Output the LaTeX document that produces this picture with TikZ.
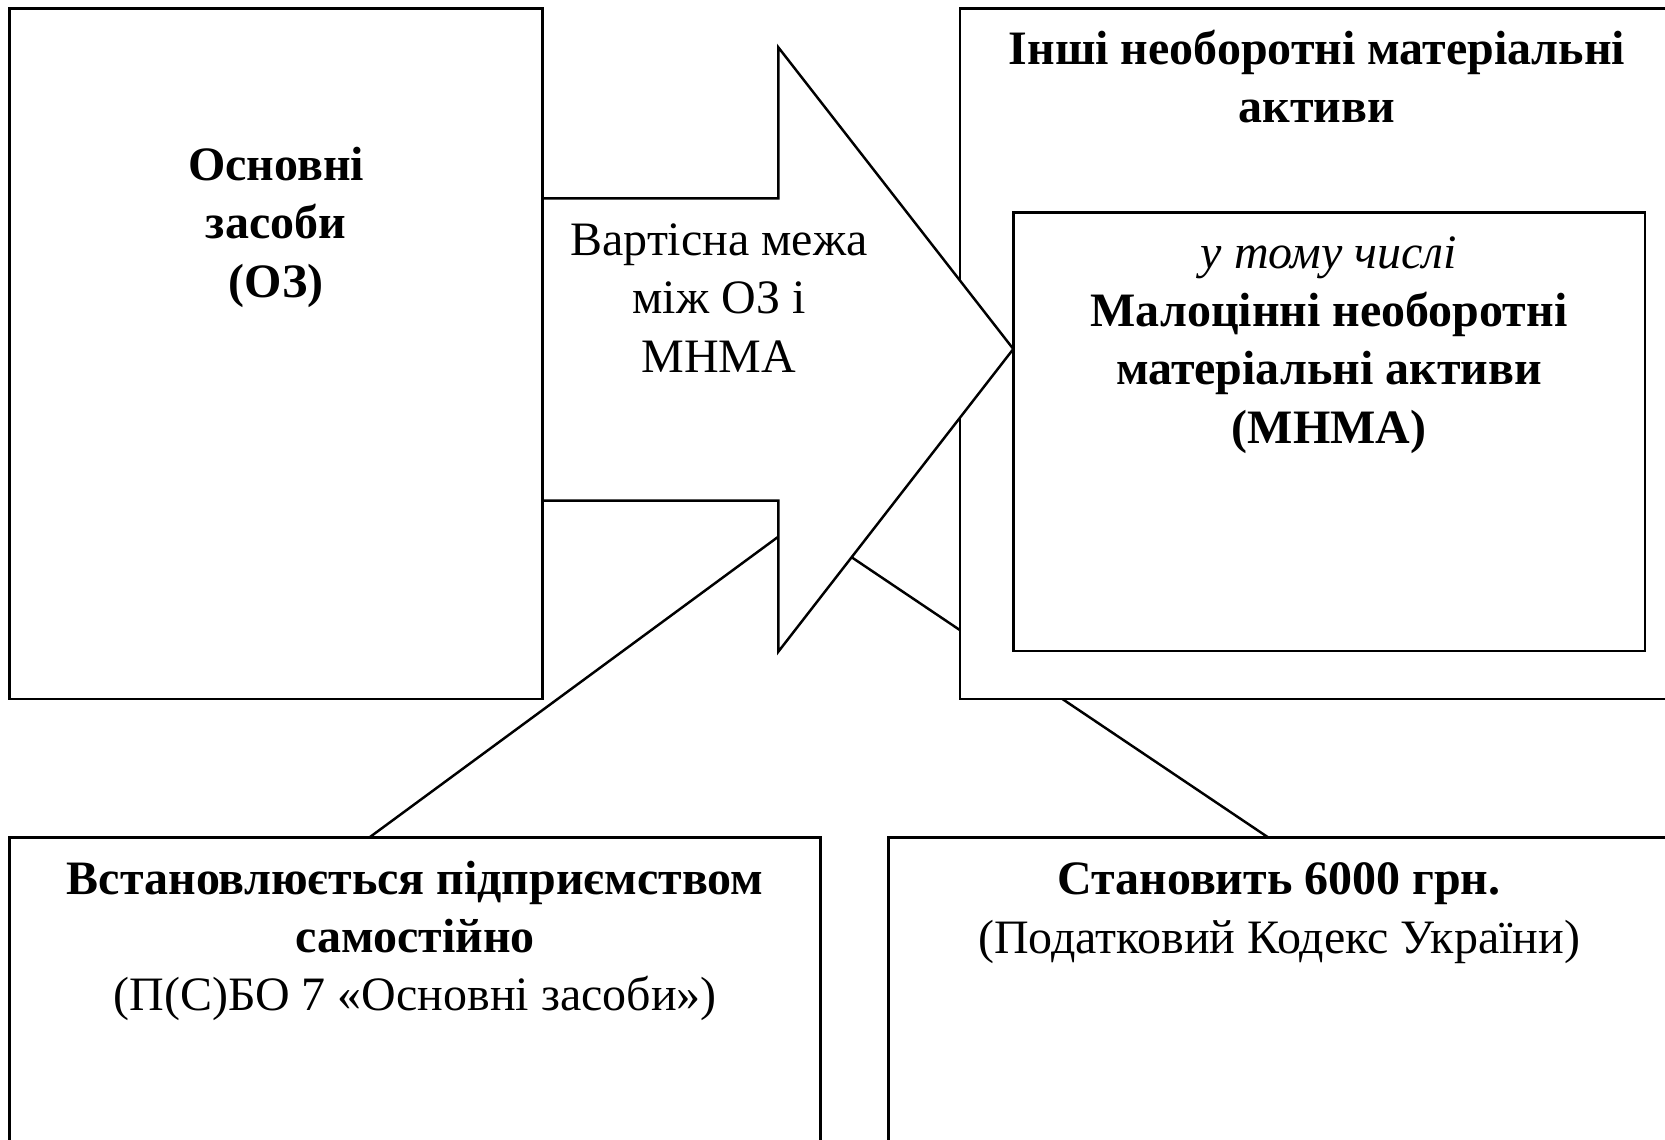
\documentclass[tikz,border=0pt]{standalone}
\usepackage{fontspec}
\setmainfont{Liberation Serif}
\usepackage{tikz}
\usetikzlibrary{positioning,backgrounds}

\begin{document}
\begin{tikzpicture}
[box/.style={rectangle, draw, line width=0.8pt, fill=white, inner sep=0pt, outer sep=0pt, anchor=north west},
 txt/.style={align=center, inner sep=0pt, font=\fontsize{13.65}{16.6}\selectfont},
 btxt/.style={txt, font=\fontsize{13.65}{16.6}\selectfont\bfseries},
 link/.style={line width=0.7pt},
 bigarrow/.style={draw, line width=0.7pt, fill=white, line join=miter}]
    \useasboundingbox (0,0) rectangle (16.65,11.39);
    \clip (0,0) rectangle (16.65,11.39);
    \node[box, minimum width=5.331cm, minimum height=6.905cm](oz) at (0.096,11.305) {};
    \node[box, minimum width=7.14cm, minimum height=6.905cm](inshi) at (9.60,11.305) {};
    % arrow between the two upper boxes
    \coordinate (arrtip) at (10.133,7.90);
    \draw[bigarrow] (5.427,9.407) -- (7.783,9.407) -- (7.783,10.917) -- (arrtip)
        -- (7.783,4.873) -- (7.783,6.383) -- (5.427,6.383) -- cycle;
    \node[box, minimum width=6.317cm, minimum height=4.386cm](mnma) at (10.133,9.266) {};
    \node[box, minimum width=8.112cm, minimum height=3.2cm](vstan) at (0.096,3.015) {};
    \node[box, minimum width=7.82cm, minimum height=3.2cm](stan) at (8.883,3.015) {};

    \node[btxt](oztxt) at (2.76,9.118) {Основні\\засоби\\(ОЗ)};
    \node[txt](arrtxt) at (7.19,8.41) {Вартісна межа\\між ОЗ і\\МНМА};
    \node[btxt](inshitxt) at (13.17,10.626) {Інші необоротні матеріальні\\активи};
    \node[txt](mnmatxt) at (13.29,7.942) {\textit{у тому числі}\\\textbf{Малоцінні необоротні}\\
        \textbf{матеріальні активи}\\\textbf{(МНМА)}};
    \node[txt](vstantxt) at (4.152,1.981) {\textbf{Встановлюється підприємством}\\
        \textbf{самостійно}\\(П(С)БО 7 «Основні засоби»)};
    \node[txt](stantxt) at (12.79,2.258) {\textbf{Становить 6000 грн.}\\(Податковий Кодекс України)};

    \coordinate (vstantop) at (3.693,3.015);
    \coordinate (arrback) at (7.783,6.023);
    \coordinate (stantop) at (12.683,3.015);
    \coordinate (arrhead) at (8.517,5.817);
    \begin{pgfonlayer}{background}
    \draw[link] (vstantop) -- (arrback);
    \draw[link] (stantop) -- (arrhead);
    \end{pgfonlayer}
\end{tikzpicture}
\end{document}
